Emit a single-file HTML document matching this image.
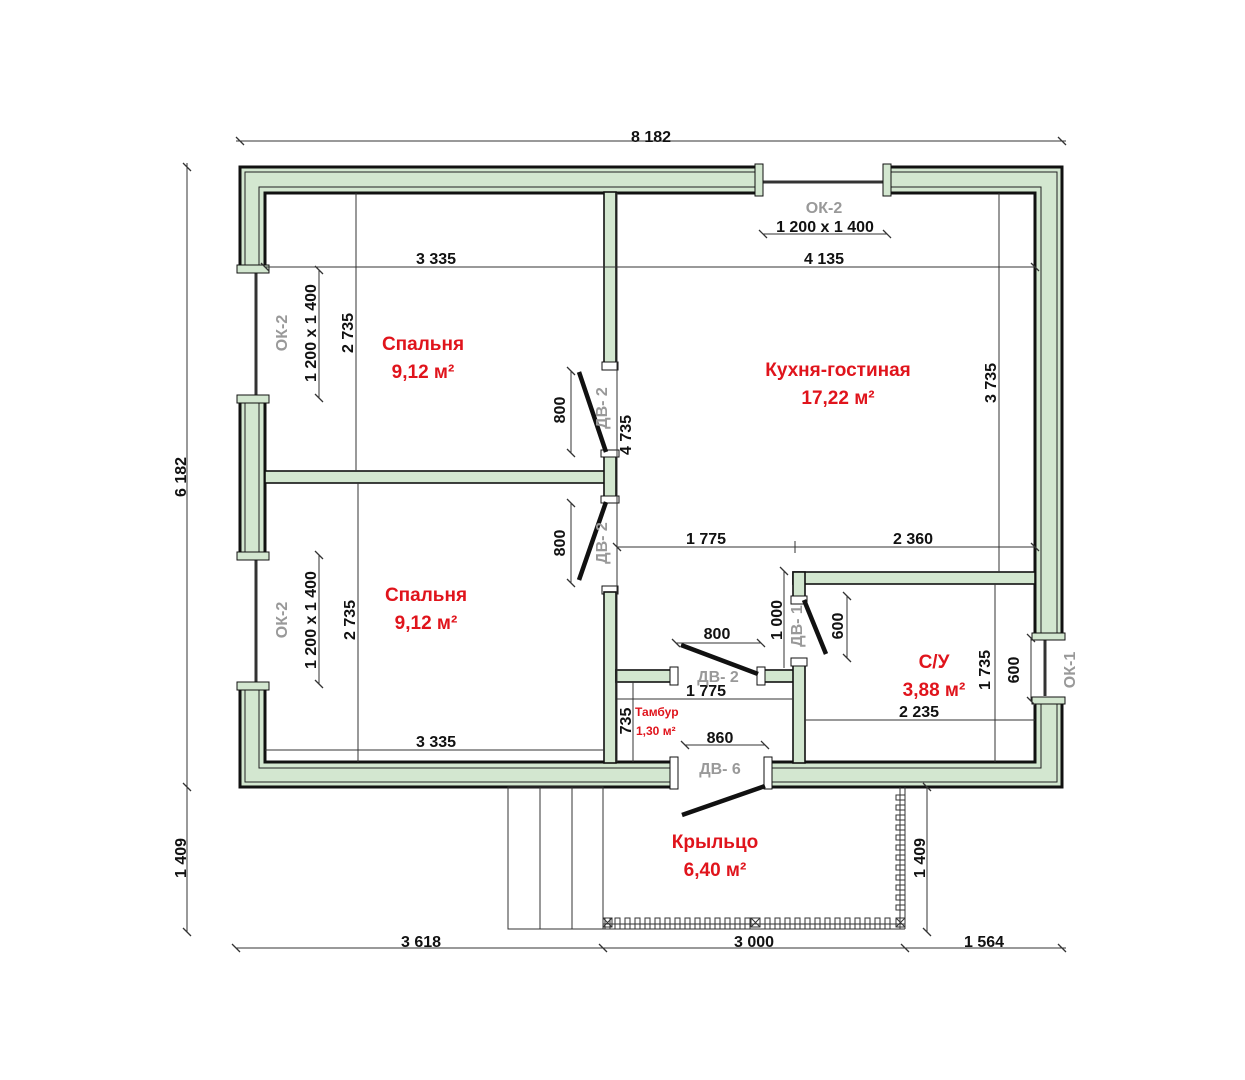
<!DOCTYPE html>
<html><head><meta charset="utf-8"><style>
html,body{margin:0;padding:0;background:#fff;}
svg{display:block;}
text{font-family:"Liberation Sans",sans-serif;}
.d{font-size:16px;font-weight:bold;fill:#111;}
.g{font-size:16px;font-weight:bold;fill:#999;}
.r{font-size:19px;font-weight:bold;fill:#e0141c;}
.w{fill:#d3e7d0;stroke:#111;stroke-width:1.6;}
.dl{stroke:#333;stroke-width:1;fill:none;}
</style></head><body>
<svg width="1245" height="1080" viewBox="0 0 1245 1080" xmlns="http://www.w3.org/2000/svg">
<!-- outer walls -->
<path d="M240 167H1062V787H240Z M265 193V762H1035V193Z" fill="#d3e7d0" fill-rule="evenodd" stroke="#111" stroke-width="3"/>
<rect x="245" y="172" width="812" height="610" fill="none" stroke="#222" stroke-width="1"/>
<rect x="259" y="187" width="782" height="581" fill="none" stroke="#222" stroke-width="1"/>
<!-- windows -->
<rect x="760" y="164" width="126" height="32" fill="#fff"/>
<line x1="762" y1="182" x2="884" y2="182" stroke="#333" stroke-width="3"/>
<rect x="755" y="164" width="8" height="32" fill="#d3e7d0" stroke="#111"/>
<rect x="883" y="164" width="8" height="32" fill="#d3e7d0" stroke="#111"/>
<rect x="237" y="271" width="32" height="126" fill="#fff"/>
<line x1="256" y1="273" x2="256" y2="395" stroke="#333" stroke-width="3"/>
<rect x="237" y="265" width="32" height="8" fill="#d3e7d0" stroke="#111"/>
<rect x="237" y="395" width="32" height="8" fill="#d3e7d0" stroke="#111"/>
<rect x="237" y="558" width="32" height="126" fill="#fff"/>
<line x1="256" y1="560" x2="256" y2="682" stroke="#333" stroke-width="3"/>
<rect x="237" y="552" width="32" height="8" fill="#d3e7d0" stroke="#111"/>
<rect x="237" y="682" width="32" height="8" fill="#d3e7d0" stroke="#111"/>
<rect x="1032" y="638" width="33" height="60" fill="#fff"/>
<line x1="1045" y1="640" x2="1045" y2="696" stroke="#333" stroke-width="3"/>
<rect x="1032" y="633" width="33" height="7" fill="#d3e7d0" stroke="#111"/>
<rect x="1032" y="697" width="33" height="7" fill="#d3e7d0" stroke="#111"/>
<!-- entrance door gap -->
<rect x="674" y="759" width="94" height="31" fill="#fff"/>
<rect x="670" y="757" width="8" height="32" fill="#fff" stroke="#111"/>
<rect x="764" y="757" width="8" height="32" fill="#fff" stroke="#111"/>
<!-- interior walls -->
<rect class="w" x="604" y="192" width="12" height="176"/>
<rect x="602" y="362" width="16" height="8" fill="#fff" stroke="#111"/>
<rect class="w" x="265" y="471" width="340" height="12"/>
<rect class="w" x="604" y="452" width="12" height="50"/>
<rect x="601" y="450" width="18" height="7" fill="#fff" stroke="#111"/>
<rect x="601" y="496" width="18" height="7" fill="#fff" stroke="#111"/>
<rect x="602" y="586" width="16" height="8" fill="#fff" stroke="#111"/>
<rect class="w" x="604" y="592" width="12" height="171"/>
<rect class="w" x="616" y="670" width="59" height="12"/>
<rect x="670" y="667" width="8" height="18" fill="#fff" stroke="#111"/>
<rect class="w" x="760" y="670" width="35" height="12"/>
<rect x="757" y="667" width="8" height="18" fill="#fff" stroke="#111"/>
<rect class="w" x="793" y="660" width="12" height="103"/>
<rect x="791" y="658" width="16" height="8" fill="#fff" stroke="#111"/>
<rect class="w" x="793" y="572" width="242" height="12"/>
<rect class="w" x="793" y="572" width="12" height="30"/>
<rect x="791" y="596" width="16" height="8" fill="#fff" stroke="#111"/>
<rect x="794" y="573" width="10" height="11" fill="#d3e7d0"/>
<!-- door leaves -->
<g stroke="#111" stroke-width="4.5" stroke-linecap="butt">
<line x1="579" y1="372" x2="606" y2="452"/>
<line x1="606" y1="502" x2="579" y2="580"/>
<line x1="681" y1="645" x2="758" y2="674"/>
<line x1="804" y1="600" x2="826" y2="654"/>
<line x1="765" y1="786" x2="682" y2="815"/>
</g>
<!-- porch -->
<g stroke="#333" stroke-width="1" fill="none">
<rect x="508" y="787" width="95" height="142"/>
<line x1="540" y1="787" x2="540" y2="929"/>
<line x1="572" y1="787" x2="572" y2="929"/>
<line x1="603" y1="787" x2="603" y2="929"/>
<line x1="603" y1="924" x2="905" y2="924"/>
<line x1="603" y1="929" x2="905" y2="929"/>
<line x1="900" y1="787" x2="900" y2="929"/>
<line x1="905" y1="787" x2="905" y2="929"/>
<path d="M605 929 V918 H610 V929 M615 929 V918 H620 V929 M625 929 V918 H630 V929 M635 929 V918 H640 V929 M645 929 V918 H650 V929 M655 929 V918 H660 V929 M665 929 V918 H670 V929 M675 929 V918 H680 V929 M685 929 V918 H690 V929 M695 929 V918 H700 V929 M705 929 V918 H710 V929 M715 929 V918 H720 V929 M725 929 V918 H730 V929 M735 929 V918 H740 V929 M745 929 V918 H750 V929 M765 929 V918 H770 V929 M775 929 V918 H780 V929 M785 929 V918 H790 V929 M795 929 V918 H800 V929 M805 929 V918 H810 V929 M815 929 V918 H820 V929 M825 929 V918 H830 V929 M835 929 V918 H840 V929 M845 929 V918 H850 V929 M855 929 V918 H860 V929 M865 929 V918 H870 V929 M875 929 V918 H880 V929 M885 929 V918 H890 V929"/>
<path d="M905 795 H896 V800 H905 M905 805 H896 V810 H905 M905 815 H896 V820 H905 M905 825 H896 V830 H905 M905 835 H896 V840 H905 M905 845 H896 V850 H905 M905 855 H896 V860 H905 M905 865 H896 V870 H905 M905 875 H896 V880 H905 M905 885 H896 V890 H905 M905 895 H896 V900 H905 M905 905 H896 V910 H905"/>
<rect x="603" y="918" width="9" height="9"/><path d="M603 918l9 9M612 918l-9 9"/>
<rect x="751" y="918" width="9" height="9"/><path d="M751 918l9 9M760 918l-9 9"/>
<rect x="896" y="918" width="9" height="9"/><path d="M896 918l9 9M905 918l-9 9"/>
</g>
<!-- dimension lines -->
<g class="dl">
<line x1="236" y1="141" x2="1066" y2="141"/>
<line x1="187" y1="163" x2="187" y2="791"/>
<line x1="187" y1="787" x2="187" y2="932"/>
<line x1="236" y1="948" x2="1066" y2="948"/>
<line x1="927" y1="787" x2="927" y2="932"/>
<line x1="265" y1="267" x2="1035" y2="267"/>
<line x1="356" y1="193" x2="356" y2="471"/>
<line x1="358" y1="483" x2="358" y2="762"/>
<line x1="265" y1="750" x2="604" y2="750"/>
<line x1="319" y1="270" x2="319" y2="398"/>
<line x1="319" y1="555" x2="319" y2="684"/>
<line x1="571" y1="371" x2="571" y2="453"/>
<line x1="571" y1="503" x2="571" y2="583"/>
<line x1="617" y1="193" x2="617" y2="762"/>
<line x1="617" y1="547" x2="1035" y2="547"/>
<line x1="999" y1="193" x2="999" y2="572"/>
<line x1="763" y1="234" x2="887" y2="234"/>
<line x1="995" y1="584" x2="995" y2="762"/>
<line x1="1031" y1="638" x2="1031" y2="701"/>
<line x1="805" y1="720" x2="1035" y2="720"/>
<line x1="617" y1="699" x2="793" y2="699"/>
<line x1="633" y1="682" x2="633" y2="762"/>
<line x1="676" y1="643" x2="761" y2="643"/>
<line x1="685" y1="745" x2="765" y2="745"/>
<line x1="784" y1="571" x2="784" y2="668"/>
<line x1="847" y1="596" x2="847" y2="658"/>
<line x1="795" y1="541" x2="795" y2="553"/>
</g>
<g stroke="#333" stroke-width="1.3">
<path d="M236 137l8 8M1058 137l8 8M183 163l8 8M183 783l8 8M183 928l8 8M232 944l8 8M599 944l8 8M901 944l8 8M1058 944l8 8M923 783l8 8M923 928l8 8M261 263l8 8M1031 263l8 8M315 266l8 8M315 394l8 8M315 551l8 8M315 680l8 8M567 367l8 8M567 449l8 8M567 499l8 8M567 579l8 8M613 543l8 8M1031 543l8 8M759 230l8 8M883 230l8 8M1027 634l8 8M1027 697l8 8M672 639l8 8M757 639l8 8M681 741l8 8M761 741l8 8M780 567l8 8M843 592l8 8M843 654l8 8"/>
</g>
<!-- dimension text -->
<text class="d" x="651" y="142" text-anchor="middle">8 182</text>
<text class="d" x="436" y="264" text-anchor="middle">3 335</text>
<text class="d" x="824" y="264" text-anchor="middle">4 135</text>
<text class="d" x="436" y="747" text-anchor="middle">3 335</text>
<text class="d" x="706" y="544" text-anchor="middle">1 775</text>
<text class="d" x="913" y="544" text-anchor="middle">2 360</text>
<text class="d" x="825" y="232" text-anchor="middle">1 200 x 1 400</text>
<text class="g" x="824" y="213" text-anchor="middle">ОК-2</text>
<text class="d" x="717" y="639" text-anchor="middle">800</text>
<text class="d" x="706" y="696" text-anchor="middle">1 775</text>
<text class="d" x="720" y="743" text-anchor="middle">860</text>
<text class="d" x="919" y="717" text-anchor="middle">2 235</text>
<text class="g" x="718" y="682" text-anchor="middle">ДВ- 2</text>
<text class="g" x="720" y="774" text-anchor="middle">ДВ- 6</text>
<text class="d" x="421" y="947" text-anchor="middle">3 618</text>
<text class="d" x="754" y="947" text-anchor="middle">3 000</text>
<text class="d" x="984" y="947" text-anchor="middle">1 564</text>
<g class="d" text-anchor="middle">
<text transform="translate(186,477) rotate(-90)">6 182</text>
<text transform="translate(186,858) rotate(-90)">1 409</text>
<text transform="translate(925,858) rotate(-90)">1 409</text>
<text transform="translate(353,333) rotate(-90)">2 735</text>
<text transform="translate(355,620) rotate(-90)">2 735</text>
<text transform="translate(316,333) rotate(-90)">1 200 x 1 400</text>
<text transform="translate(316,620) rotate(-90)">1 200 x 1 400</text>
<text transform="translate(565,410) rotate(-90)">800</text>
<text transform="translate(565,543) rotate(-90)">800</text>
<text transform="translate(631,435) rotate(-90)">4 735</text>
<text transform="translate(996,383) rotate(-90)">3 735</text>
<text transform="translate(990,670) rotate(-90)">1 735</text>
<text transform="translate(1019,670) rotate(-90)">600</text>
<text transform="translate(843,626) rotate(-90)">600</text>
<text transform="translate(782,620) rotate(-90)">1 000</text>
<text transform="translate(631,721) rotate(-90)">735</text>
</g>
<g class="g" text-anchor="middle">
<text transform="translate(287,333) rotate(-90)">ОК-2</text>
<text transform="translate(287,620) rotate(-90)">ОК-2</text>
<text transform="translate(1075,670) rotate(-90)">ОК-1</text>
<text transform="translate(607,408) rotate(-90)">ДВ- 2</text>
<text transform="translate(607,543) rotate(-90)">ДВ- 2</text>
<text transform="translate(802,626) rotate(-90)">ДВ- 1</text>
</g>
<!-- room labels -->
<g class="r" text-anchor="middle">
<text x="423" y="350">Спальня</text>
<text x="423" y="378">9,12 м²</text>
<text x="426" y="601">Спальня</text>
<text x="426" y="629">9,12 м²</text>
<text x="838" y="376">Кухня-гостиная</text>
<text x="838" y="404">17,22 м²</text>
<text x="934" y="668">С/У</text>
<text x="934" y="696">3,88 м²</text>
<text x="715" y="848">Крыльцо</text>
<text x="715" y="876">6,40 м²</text>
</g>
<text x="635" y="716" style="font-size:12px;font-weight:bold;fill:#e0141c">Тамбур</text>
<text x="636" y="735" style="font-size:12px;font-weight:bold;fill:#e0141c">1,30 м²</text>
</svg>
</body></html>
